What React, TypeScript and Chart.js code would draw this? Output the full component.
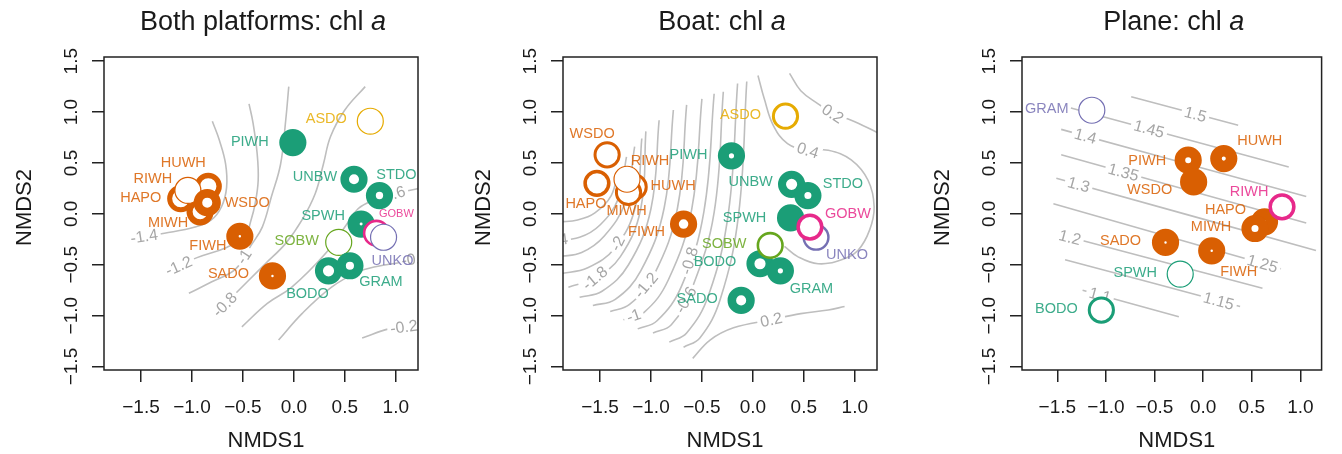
import React, { useEffect, useRef } from 'react';
import { Chart, registerables } from 'chart.js';

Chart.register(...registerables);

const FONT = '"Liberation Sans", Arial, Helvetica, sans-serif';

const PALETTE: Record<string, string> = {
  green: '#1B9E77',
  orange: '#D95F02',
  purple: '#7570B3',
  pink: '#E7298A',
  lime: '#66A61E',
  yellow: '#E6AB02',
};

// axis limits shared by all panels (NMDS units)
const X_MIN = -1.863;
const X_MAX = 1.218;
const Y_MIN = -1.534;
const Y_MAX = 1.541;

// ---------------- Panel 1: Both platforms ----------------
const p1Sites = ['ASDO', 'PIWH', 'UNBW', 'STDO', 'SOBW', 'BODO', 'GRAM', 'SPWH', 'GOBW', 'UNKO', 'FIWH', 'SADO', 'HAPO', 'MIWH', 'HUWH', 'RIWH', 'WSDO'];
const p1X = [0.75, -0.01, 0.59, 0.84, 0.44, 0.34, 0.55, 0.66, 0.81, 0.88, -0.53, -0.21, -1.11, -0.92, -0.84, -1.04, -0.85];
const p1Y = [0.91, 0.70, 0.34, 0.18, -0.28, -0.56, -0.51, -0.10, -0.19, -0.23, -0.22, -0.61, 0.15, 0.02, 0.27, 0.23, 0.11];
const p1Group = ['yellow', 'green', 'green', 'green', 'lime', 'green', 'green', 'green', 'pink', 'purple', 'orange', 'orange', 'orange', 'orange', 'orange', 'orange', 'orange'];
const p1Fill = [0.09, 1, 0.63, 0.73, 0.08, 0.59, 0.7, 0.89, 0.19, 0.08, 0.91, 0.91, 0.37, 0.45, 0.4, 0.08, 0.63];
const p1LabelDx = [-44, -43, -39, 17, -42, -21, 31, -38, 20, 9, -32, -44, -40, -32, -25, -35, 40];
const p1LabelDy = [-2, -1, -2, -21, -1, 23, 16, -8, -19, 24, 10, -2, -1, 11, -23, -11, 0];
const p1SmallLabels = ['GOBW'];
const p1Levels = ['-1.4', '-1.2', '-1', '-0.8', '-0.6', '-0.4', '-0.2'];
const p1Lines = [
  [[-0.8, 0.91], [-0.73, 0.72], [-0.67, 0.49], [-0.66, 0.26], [-0.71, 0.07], [-0.81, -0.06], [-0.97, -0.13], [-1.27, -0.19], [-1.47, -0.22]],
  [[-0.44, 1.08], [-0.4, 0.89], [-0.36, 0.59], [-0.35, 0.33], [-0.38, 0.1], [-0.42, -0.06], [-0.48, -0.22], [-0.66, -0.33], [-0.95, -0.43], [-1.13, -0.51]],
  [[-0.05, 1.25], [-0.08, 0.92], [-0.13, 0.49], [-0.22, 0.17], [-0.31, -0.13], [-0.42, -0.31], [-0.57, -0.54], [-0.81, -0.67], [-1.03, -0.78]],
  [[0.7, 1.25], [0.5, 1.02], [0.36, 0.76], [0.29, 0.49], [0.21, 0.2], [0.08, -0.06], [-0.08, -0.29], [-0.28, -0.49], [-0.44, -0.65], [-0.68, -0.89]],
  [[-0.51, -1.11], [-0.26, -0.88], [-0.02, -0.72], [0.31, -0.39], [0.5, -0.13], [0.63, 0.05], [0.8, 0.14], [0.96, 0.19], [1.23, 0.25]],
  [[-0.15, -1.24], [0.08, -0.98], [0.37, -0.72], [0.63, -0.57], [0.8, -0.52], [1.03, -0.48], [1.3, -0.44]],
  [[0.67, -1.22], [0.93, -1.13], [1.08, -1.11], [1.3, -1.08]],
];
const p1LabelPos = [[-1.47, -0.22], [-1.13, -0.51], [-0.49, -0.42], [-0.68, -0.89], [0.96, 0.19], [1.19, -0.44], [1.08, -1.11]];

// ---------------- Panel 2: Boat ----------------
const p2Sites = ['ASDO', 'PIWH', 'WSDO', 'HAPO', 'HUWH', 'MIWH', 'RIWH', 'FIWH', 'UNBW', 'STDO', 'SPWH', 'UNKO', 'GOBW', 'BODO', 'GRAM', 'SOBW', 'SADO'];
const p2X = [0.32, -0.21, -1.43, -1.53, -1.165, -1.22, -1.235, -0.68, 0.38, 0.54, 0.37, 0.62, 0.56, 0.07, 0.27, 0.17, -0.115];
const p2Y = [0.96, 0.57, 0.58, 0.3, 0.265, 0.21, 0.34, -0.1, 0.29, 0.18, -0.04, -0.23, -0.13, -0.49, -0.56, -0.31, -0.85];
const p2Group = ['yellow', 'green', 'orange', 'orange', 'orange', 'orange', 'orange', 'orange', 'green', 'green', 'green', 'purple', 'pink', 'green', 'green', 'lime', 'green'];
const p2Fill = [0.22, 0.81, 0.22, 0.26, 0.22, 0.22, 0.08, 0.65, 0.59, 0.74, 1, 0.18, 0.26, 0.59, 0.81, 0.19, 0.63];
const p2LabelDx = [-45, -43, -15, -11, 39, -2, 23, -37, -41, 35, -46, 31, 38, -45, 31, -46, -44];
const p2LabelDy = [-1, -1, -21, 21, -1, 19, -18, 8, -2, -12, 0, 18, -13, -2, 18, -1, -1];
const p2SmallLabels: string[] = [];
const p2Levels = ['-2.6', '-2.4', '-2.2', '-2', '-1.8', '-1.6', '-1.4', '-1.2', '-1', '-0.8', '-0.6', '-0.4', '-0.2', '0.4', '0.2', '0.2'];
const p2Lines = [
  [[-1.32, 0.43], [-1.39, 0.18], [-1.55, 0.01], [-1.72, -0.06], [-1.9, -0.08]],
  [[-1.24, 0.56], [-1.32, 0.15], [-1.5, -0.11], [-1.7, -0.23], [-2.0, -0.27]],
  [[-1.16, 0.66], [-1.25, 0.12], [-1.46, -0.22], [-1.68, -0.38], [-1.9, -0.42]],
  [[-1.09, 0.74], [-1.15, 0.08], [-1.35, -0.33], [-1.62, -0.53], [-1.9, -0.59]],
  [[-1.05, 0.81], [-1.1, 0.05], [-1.3, -0.42], [-1.55, -0.63], [-1.81, -0.72]],
  [[-0.92, 0.92], [-1.0, 0.05], [-1.22, -0.5], [-1.48, -0.76], [-1.7, -0.82]],
  [[-0.78, 1.02], [-0.87, 0.06], [-1.1, -0.56], [-1.35, -0.84], [-1.57, -0.9]],
  [[-0.65, 1.07], [-0.74, 0.055], [-0.97, -0.6], [-1.21, -0.89], [-1.4, -0.96]],
  [[-0.5, 1.13], [-0.6, 0.045], [-0.83, -0.65], [-1.07, -0.97], [-1.27, -1.04]],
  [[-0.38, 1.18], [-0.48, 0.025], [-0.7, -0.71], [-0.94, -1.05], [-1.13, -1.13]],
  [[-0.29, 1.2], [-0.38, 0.015], [-0.6, -0.74], [-0.8, -1.09], [-0.98, -1.17]],
  [[-0.15, 1.28], [-0.24, 0.01], [-0.435, -0.8], [-0.65, -1.17], [-0.82, -1.26]],
  [[-0.06, 1.3], [-0.14, -0.005], [-0.32, -0.84], [-0.52, -1.22], [-0.68, -1.31]],
  [[0.05, 1.36], [0.115, 1.12], [0.2, 0.87], [0.34, 0.69], [0.54, 0.625], [0.74, 0.625], [0.965, 0.53], [1.13, 0.33], [1.19, 0.07], [1.145, -0.16], [1.03, -0.36], [0.87, -0.45], [0.64, -0.49], [0.44, -0.42], [0.31, -0.32]],
  [[0.36, 1.38], [0.47, 1.21], [0.64, 1.08], [0.785, 0.985], [0.965, 0.92], [1.22, 0.8]],
  [[-0.59, -1.42], [-0.42, -1.24], [-0.19, -1.12], [0.18, -1.04], [0.47, -0.98], [0.74, -0.945], [0.9, -0.91]],
];
const p2LabelPos = [
  [-1.72, -0.06], [-1.95, -0.26], [-1.6, -0.33], [-1.33, -0.29], [-1.55, -0.63], [-1.3, -0.6], [-1.2, -0.7],
  [-1.05, -0.7], [-1.17, -1.0], [-0.625, -0.46], [-0.66, -0.845], [-0.5, -0.95], [-0.4, -1.0],
  [0.54, 0.625], [0.785, 0.985], [0.18, -1.04],
];
const p2ShowLabel = [false, true, false, true, true, false, false, true, true, true, true, false, false, true, true, true];

// ---------------- Panel 3: Plane ----------------
const p3Sites = ['GRAM', 'PIWH', 'HUWH', 'WSDO', 'HAPO', 'MIWH', 'RIWH', 'SADO', 'FIWH', 'SPWH', 'BODO'];
const p3X = [-1.145, -0.154, 0.212, -0.098, 0.631, 0.533, 0.811, -0.387, 0.088, -0.236, -1.047];
const p3Y = [1.018, 0.527, 0.543, 0.314, -0.078, -0.144, 0.069, -0.281, -0.363, -0.592, -0.945];
const p3Group = ['purple', 'orange', 'orange', 'orange', 'orange', 'orange', 'pink', 'orange', 'orange', 'green', 'green'];
const p3Fill = [0.08, 0.78, 0.85, 1, 0.89, 0.74, 0.26, 0.91, 0.91, 0.08, 0.22];
const p3LabelDx = [-45, -41, 36, -44, -39, -44, -33, -45, 27, -45, -45];
const p3LabelDy = [-1, 1, -18, 8, -12, -2, -15, -1, 21, -1, -1];
const p3SmallLabels: string[] = [];
const p3Levels = ['1.5', '1.45', '1.4', '1.35', '1.3', '1.25', '1.2', '1.15', '1.1'];
const p3Lines = [
  [[-0.74, 1.15], [0.36, 0.87]],
  [[-1.36, 1.04], [0.88, 0.46]],
  [[-1.46, 0.83], [1.06, 0.17]],
  [[-1.46, 0.58], [1.06, -0.09]],
  [[-1.51, 0.35], [1.16, -0.36]],
  [[-1.54, 0.1], [0.8, -0.54]],
  [[-1.37, -0.23], [0.61, -0.73]],
  [[-1.42, -0.45], [0.38, -0.91]],
  [[-1.24, -0.75], [-0.25, -1.01]],
];
const p3LabelPos = [[-0.08, 0.98], [-0.556, 0.835], [-1.21, 0.765], [-0.82, 0.41], [-1.28, 0.289], [0.61, -0.488], [-1.37, -0.23], [0.16, -0.854], [-1.06, -0.797]];

interface PanelSpec {
  title: string;
  sites: string[];
  xs: number[];
  ys: number[];
  groups: string[];
  fills: number[];
  ldx: number[];
  ldy: number[];
  small: string[];
  levels: string[];
  lines: number[][][];
  labelPos: number[][];
  showLabel?: boolean[];
}

const PANELS: PanelSpec[] = [
  { title: 'Both platforms: chl ', sites: p1Sites, xs: p1X, ys: p1Y, groups: p1Group, fills: p1Fill, ldx: p1LabelDx, ldy: p1LabelDy, small: p1SmallLabels, levels: p1Levels, lines: p1Lines, labelPos: p1LabelPos },
  { title: 'Boat: chl ', sites: p2Sites, xs: p2X, ys: p2Y, groups: p2Group, fills: p2Fill, ldx: p2LabelDx, ldy: p2LabelDy, small: p2SmallLabels, levels: p2Levels, lines: p2Lines, labelPos: p2LabelPos, showLabel: p2ShowLabel },
  { title: 'Plane: chl ', sites: p3Sites, xs: p3X, ys: p3Y, groups: p3Group, fills: p3Fill, ldx: p3LabelDx, ldy: p3LabelDy, small: p3SmallLabels, levels: p3Levels, lines: p3Lines, labelPos: p3LabelPos },
];

const PANEL_LEFT = [0, 459, 918];
const PANEL_WIDTH = [447, 447, 424];

const RO = 13.6; // outer radius of site symbols (px)
const thick = (f: number) => Math.max(f * RO, 1.2);

const CONTOUR_FONT = `16px ${FONT}`;

function makePlugin(spec: PanelSpec) {
  const shown = (ci: number) => (spec.showLabel ? spec.showLabel[ci] : true);
  const geom = (chart: any, ci: number) => {
    const xs = chart.scales.x;
    const ys = chart.scales.y;
    const pts = spec.lines[ci].map((p) => [xs.getPixelForValue(p[0]), ys.getPixelForValue(p[1])]);
    const lp = spec.labelPos[ci];
    const cx = xs.getPixelForValue(lp[0]);
    const cy = ys.getPixelForValue(lp[1]);
    let best = Infinity;
    let ang = 0;
    for (let i = 0; i < pts.length - 1; i++) {
      const [ax, ay] = pts[i];
      const [bx, by] = pts[i + 1];
      const dx = bx - ax;
      const dy = by - ay;
      const l2 = dx * dx + dy * dy || 1;
      let t = ((cx - ax) * dx + (cy - ay) * dy) / l2;
      t = Math.max(0, Math.min(1, t));
      const d = Math.hypot(ax + t * dx - cx, ay + t * dy - cy);
      if (d < best) {
        best = d;
        ang = Math.atan2(dy, dx);
      }
    }
    if (ang > Math.PI / 2) ang -= Math.PI;
    if (ang < -Math.PI / 2) ang += Math.PI;
    return { cx, cy, ang };
  };

  return {
    id: 'panelDecor',
    beforeDatasetDraw(chart: any, args: any) {
      const ds = chart.data.datasets[args.index];
      const ctx = chart.ctx;
      if (ds.contourIndex !== undefined) {
        const ci = ds.contourIndex;
        ctx.save();
        if (shown(ci)) {
          const g = geom(chart, ci);
          ctx.font = CONTOUR_FONT;
          const w = ctx.measureText(spec.levels[ci]).width + 6;
          const h = 13;
          const c = Math.cos(g.ang);
          const s = Math.sin(g.ang);
          const corners = [[-w / 2, -h / 2], [w / 2, -h / 2], [w / 2, h / 2], [-w / 2, h / 2]].map(([u, v]) => [g.cx + u * c - v * s, g.cy + u * s + v * c]);
          ctx.beginPath();
          ctx.rect(0, 0, chart.width, chart.height);
          ctx.moveTo(corners[0][0], corners[0][1]);
          for (let k = 1; k < 4; k++) ctx.lineTo(corners[k][0], corners[k][1]);
          ctx.closePath();
          ctx.clip('evenodd');
        }
      } else if (ds.isSites) {
        const a = chart.chartArea;
        ctx.save();
        ctx.beginPath();
        ctx.rect(a.left, a.top, a.right - a.left, a.bottom - a.top);
        ctx.clip();
        ctx.font = CONTOUR_FONT;
        ctx.fillStyle = '#A6A6A6';
        ctx.textAlign = 'center';
        ctx.textBaseline = 'middle';
        spec.levels.forEach((lv, ci) => {
          if (!shown(ci)) return;
          const g = geom(chart, ci);
          ctx.save();
          ctx.translate(g.cx, g.cy);
          ctx.rotate(g.ang);
          ctx.fillText(lv, 0, 1);
          ctx.restore();
        });
        ctx.restore();
      }
    },
    afterDatasetDraw(chart: any, args: any) {
      const ds = chart.data.datasets[args.index];
      if (ds.contourIndex !== undefined) chart.ctx.restore();
    },
    afterDatasetsDraw(chart: any) {
      const ctx = chart.ctx;
      const xs = chart.scales.x;
      const ys = chart.scales.y;
      ctx.save();
      ctx.textAlign = 'center';
      ctx.textBaseline = 'middle';
      ctx.globalAlpha = 0.85;
      spec.sites.forEach((name, i) => {
        const px = xs.getPixelForValue(spec.xs[i]);
        const py = ys.getPixelForValue(spec.ys[i]);
        const size = spec.small.includes(name) ? 11 : 14.5;
        ctx.font = `${size}px ${FONT}`;
        ctx.fillStyle = PALETTE[spec.groups[i]];
        ctx.fillText(name, px + spec.ldx[i], py + spec.ldy[i]);
      });
      ctx.restore();
    },
    afterDraw(chart: any) {
      const ctx = chart.ctx;
      const a = chart.chartArea;
      const xs = chart.scales.x;
      const ys = chart.scales.y;
      ctx.save();
      // box
      ctx.strokeStyle = '#222';
      ctx.lineWidth = 1.5;
      ctx.strokeRect(a.left, a.top, a.right - a.left, a.bottom - a.top);
      const fmt = (v: number) => (v < -1e-9 ? '\u2212' : '') + Math.abs(v).toFixed(1);
      ctx.fillStyle = '#1a1a1a';
      ctx.font = `19px ${FONT}`;
      ctx.textBaseline = 'alphabetic';
      ctx.textAlign = 'center';
      xs.ticks.forEach((t: any) => {
        ctx.fillText(fmt(t.value), xs.getPixelForValue(t.value), a.bottom + 43);
      });
      ys.ticks.forEach((t: any) => {
        ctx.save();
        ctx.translate(a.left - 27, ys.getPixelForValue(t.value));
        ctx.rotate(-Math.PI / 2);
        ctx.fillText(fmt(t.value), 0, 0);
        ctx.restore();
      });
      // axis titles
      ctx.font = `22px ${FONT}`;
      ctx.fillText('NMDS1', (a.left + a.right) / 2 + 5, 447);
      ctx.save();
      ctx.translate(a.left - 73, (a.top + a.bottom) / 2 - 6);
      ctx.rotate(-Math.PI / 2);
      ctx.fillText('NMDS2', 0, 0);
      ctx.restore();
      // main title with italic "a"
      ctx.font = `27px ${FONT}`;
      const w1 = ctx.measureText(spec.title).width;
      ctx.font = `italic 27px ${FONT}`;
      const w2 = ctx.measureText('a').width;
      const start = (a.left + a.right) / 2 + 2 - (w1 + w2) / 2;
      ctx.textAlign = 'left';
      ctx.font = `27px ${FONT}`;
      ctx.fillText(spec.title, start, 30);
      ctx.font = `italic 27px ${FONT}`;
      ctx.fillText('a', start + w1, 30);
      ctx.restore();
    },
  };
}

function Panel({ spec, left, width }: { spec: PanelSpec; left: number; width: number }) {
  const ref = useRef<HTMLCanvasElement>(null);
  useEffect(() => {
    const contourSets = spec.lines.map((ln, ci) => ({
      contourIndex: ci,
      order: 1,
      data: ln.map((p) => ({ x: p[0], y: p[1] })),
      showLine: true,
      fill: false,
      pointRadius: 0,
      pointHoverRadius: 0,
      borderColor: '#BEBEBE',
      borderWidth: 1.6,
      tension: 0.4,
    }));
    const siteSet = {
      isSites: true,
      order: 0,
      data: spec.xs.map((x, i) => ({ x, y: spec.ys[i] })),
      showLine: false,
      pointRadius: spec.fills.map((f) => RO - thick(f) / 2),
      pointHoverRadius: spec.fills.map((f) => RO - thick(f) / 2),
      pointBorderWidth: spec.fills.map((f) => thick(f)),
      pointHoverBorderWidth: spec.fills.map((f) => thick(f)),
      pointBackgroundColor: '#ffffff',
      pointBorderColor: spec.groups.map((g) => PALETTE[g]),
    };
    const axisGrid = {
      display: true,
      drawOnChartArea: false,
      drawTicks: true,
      tickLength: 12,
      color: '#222',
      lineWidth: 1.5,
    };
    const chart = new Chart(ref.current as HTMLCanvasElement, {
      type: 'scatter',
      data: { datasets: [siteSet as any, ...(contourSets as any)] },
      options: {
        responsive: false,
        animation: false,
        devicePixelRatio: 1,
        events: [],
        layout: { padding: { left: 0, right: width - 418, top: 57, bottom: 0 } },
        plugins: { legend: { display: false }, tooltip: { enabled: false }, title: { display: false } },
        scales: {
          x: {
            type: 'linear',
            min: X_MIN,
            max: X_MAX,
            ticks: { display: false, stepSize: 0.5, includeBounds: false },
            grid: axisGrid,
            border: { display: false },
            afterFit: (s: any) => {
              s.height = 84;
            },
          },
          y: {
            type: 'linear',
            min: Y_MIN,
            max: Y_MAX,
            ticks: { display: false, stepSize: 0.5, includeBounds: false },
            grid: axisGrid,
            border: { display: false },
            afterFit: (s: any) => {
              s.width = 104;
            },
          },
        },
      } as any,
      plugins: [makePlugin(spec) as any],
    });
    return () => chart.destroy();
  }, [spec, width]);
  return <canvas ref={ref} width={width} height={454} style={{ position: 'absolute', left, top: 0, width, height: 454 }} />;
}

export default function App() {
  return (
    <div style={{ position: 'fixed', left: 0, top: 0, width: 1342, height: 454, background: '#ffffff', overflow: 'hidden' }}>
      {PANELS.map((p, i) => (
        <Panel key={i} spec={p} left={PANEL_LEFT[i]} width={PANEL_WIDTH[i]} />
      ))}
    </div>
  );
}
